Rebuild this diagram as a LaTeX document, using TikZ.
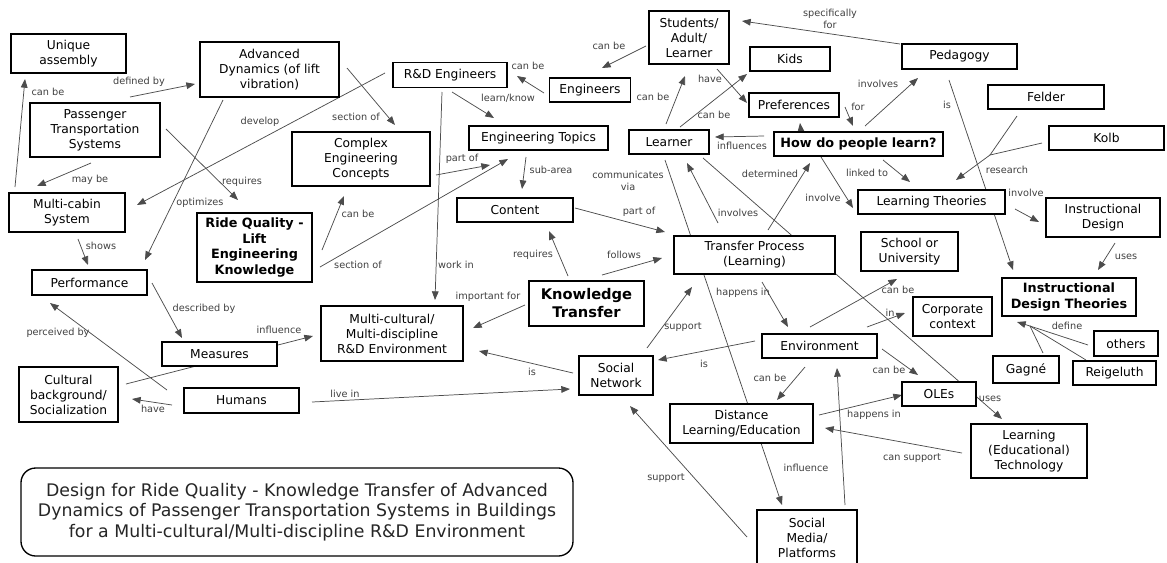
\documentclass[tikz,border=0pt]{standalone}
\usepackage{fontspec}
\setmainfont{DejaVu Sans}
\usetikzlibrary{arrows.meta,calc,backgrounds}

% a connector between two concepts, end points given as offsets from the node centres
\newcommand{\cmaplink}[4]{\draw[arr] ($(#1)+(#2)$) -- ($(#3)+(#4)$);}
\newcommand{\cmapline}[4]{\draw[link] ($(#1)+(#2)$) -- ($(#3)+(#4)$);}

\begin{document}
\begin{tikzpicture}[x=0.75pt,y=-0.75pt,
  concept/.style={draw=black, line width=0.9pt, fill=white, align=center,
    font=\fontsize{9.2}{11.3}\selectfont, inner sep=1pt},
  conceptb/.style={concept, font=\fontsize{9.6}{11.6}\selectfont\bfseries},
  conceptkt/.style={concept, font=\fontsize{11}{13.5}\selectfont\bfseries},
  sz/.style 2 args={minimum width=#1*0.75pt, minimum height=#2*0.75pt},
  lab/.style={font=\fontsize{7.3}{9}\selectfont, text=black!75, inner sep=0pt, align=center},
  link/.style={draw=black!70, line width=0.55pt},
  arr/.style={link, -{Triangle[length=6.5pt,width=5pt]}},
  titlebox/.style={draw=black, line width=1pt, fill=white, rounded corners=11pt,
    align=center, font=\fontsize{13}{15.4}\selectfont, text=black!85}
]
\useasboundingbox (0,0) rectangle (1167,562);

% ---------- concepts ----------
\node[concept, sz={115}{39}] (ua) at (68.5,53.5) {Unique\\assembly};
\node[concept, sz={139}{55}] (ad) at (269.5,69.5) {Advanced\\Dynamics (of lift\\vibration)};
\node[concept, sz={130}{54}] (pts) at (95,130) {Passenger\\Transportation\\Systems};
\node[concept, sz={116}{39}] (mc) at (67,212.5) {Multi-cabin\\System};
\node[concept, sz={114}{25}] (rde) at (450,75) {R\&D Engineers};
\node[concept, sz={138}{54}] (cec) at (361,159) {Complex\\Engineering\\Concepts};
\node[concept, sz={139}{24}] (et) at (538.5,138) {Engineering Topics};
\node[conceptb, sz={115}{69}] (rq) at (254.5,247.5) {Ride Quality -\\Lift\\Engineering\\Knowledge};
\node[concept, sz={115}{25}] (perf) at (89.5,282.5) {Performance};
\node[concept, sz={116}{24}] (cont) at (515,210) {Content};
\node[conceptkt, sz={115}{45}] (kt) at (586.5,303.5) {Knowledge\\Transfer};
\node[concept, sz={142}{55}] (mce) at (392,333.5) {Multi-cultural/\\Multi-discipline\\R\&D Environment};
\node[concept, sz={115}{24}] (meas) at (219.5,354) {Measures};
\node[concept, sz={99}{55}] (cult) at (68.5,394.5) {Cultural\\background/\\Socialization};
\node[concept, sz={115}{25}] (hum) at (241.5,400.5) {Humans};
\node[concept, sz={80}{53}] (stu) at (689,37.5) {Students/\\Adult/\\Learner};
\node[concept, sz={81}{24}] (eng) at (590,90) {Engineers};
\node[concept, sz={80}{24}] (kids) at (790,59) {Kids};
\node[concept, sz={90}{24}] (pref) at (794,105) {Preferences};
\node[concept, sz={80}{24}] (lrn) at (669,142) {Learner};
\node[conceptb, sz={169}{24}] (hdpl) at (858.5,144) {How do people learn?};
\node[concept, sz={115}{25}] (ped) at (959.5,56.5) {Pedagogy};
\node[concept, sz={116}{24}] (fel) at (1046,97) {Felder};
\node[concept, sz={115}{24}] (kolb) at (1106.5,138) {Kolb};
\node[concept, sz={147}{24}] (lt) at (931.5,202) {Learning Theories};
\node[concept, sz={114}{39}] (id) at (1103,217.5) {Instructional\\Design};
\node[concept, sz={161}{38}] (tp) at (754.5,255) {Transfer Process\\(Learning)};
\node[concept, sz={97}{39}] (sch) at (909.5,251.5) {School or\\University};
\node[conceptb, sz={134}{38}] (idt) at (1069,297) {Instructional\\Design Theories};
\node[concept, sz={79}{39}] (cc) at (952.5,316.5) {Corporate\\context};
\node[concept, sz={115}{24}] (env) at (819.5,346) {Environment};
\node[concept, sz={74}{39}] (sn) at (616,375.5) {Social\\Network};
\node[concept, sz={143}{39}] (dl) at (741.5,423.5) {Distance\\Learning/Education};
\node[concept, sz={74}{24}] (oles) at (939,394) {OLEs};
\node[concept, sz={66}{27}] (gag) at (1026,369.5) {Gagné};
\node[concept, sz={83}{24}] (rei) at (1114.5,373) {Reigeluth};
\node[concept, sz={64}{25}] (oth) at (1126,343.5) {others};
\node[concept, sz={116}{54}] (ltech) at (1029,451) {Learning\\(Educational)\\Technology};
\node[concept, sz={100}{55}] (sm) at (807,537.5) {Social\\Media/\\Platforms};

\node[titlebox, sz={552}{88}] (title) at (297,512)
  {Design for Ride Quality - Knowledge Transfer of Advanced\\
   Dynamics of Passenger Transportation Systems in Buildings\\
   for a Multi-cultural/Multi-discipline R\&D Environment};

% junctions where several links merge
\coordinate (rj) at (990,155);
\coordinate (dj) at (1030,326);

% ---------- linking phrases ----------
\node[lab] (l01) at (48,92) {can be};
\node[lab] (l02) at (139,82) {defined by};
\node[lab] (l03) at (90,180) {may be};
\node[lab] (l04) at (242,182) {requires};
\node[lab] (l05) at (260,122) {develop};
\node[lab] (l06) at (200,203) {optimizes};
\node[lab] (l07) at (356,117) {section of};
\node[lab] (l08) at (528,66) {can be};
\node[lab] (l09) at (508,98) {learn/know};
\node[lab] (l10) at (462,159) {part of};
\node[lab] (l11) at (551,170) {sub-area};
\node[lab] (l12) at (456,265) {work in};
\node[lab] (l13) at (358,265) {section of};
\node[lab] (l14) at (358,214) {can be};
\node[lab] (l15) at (609,46) {can be};
\node[lab] (l16) at (830,19) {specifically\\for};
\node[lab] (l17) at (653,97) {can be};
\node[lab] (l18) at (714,115) {can be};
\node[lab] (l19) at (710,79) {have};
\node[lab] (l20) at (858,107) {for};
\node[lab] (l21) at (878,84) {involves};
\node[lab] (l22) at (742,146) {influences};
\node[lab] (l23) at (770,174) {determined};
\node[lab] (l25) at (947,105) {is};
\node[lab] (l26) at (1007,170) {research};
\node[lab] (l27) at (867,173) {linked to};
\node[lab] (l28) at (1026,193) {involve};
\node[lab] (l29) at (1126,257) {uses};
\node[lab] (l30) at (628,181) {communicates\\via};
\node[lab] (l31) at (738,213) {involves};
\node[lab] (l32) at (990,399) {uses};
\node[lab] (l33) at (823,198) {involve};
\node[lab] (l34) at (639,212) {part of};
\node[lab] (l35) at (624,255) {follows};
\node[lab] (l36) at (533,255) {requires};
\node[lab] (l37) at (488,297) {important for};
\node[lab] (l38) at (532,372) {is};
\node[lab] (l39) at (345,394) {live in};
\node[lab] (l40) at (279,330) {influence};
\node[lab] (l41) at (743,293) {happens in};
\node[lab] (l42) at (683,327) {support};
\node[lab] (l43) at (704,364) {is};
\node[lab] (l44) at (898,290) {can be};
\node[lab] (l45) at (890,313) {in};
\node[lab] (l46) at (770,378) {can be};
\node[lab] (l47) at (889,370) {can be};
\node[lab] (l48) at (874,415) {happens in};
\node[lab] (l49) at (912,458) {can support};
\node[lab] (l50) at (666,478) {support};
\node[lab] (l52) at (806,468) {influence};
\node[lab] (l53) at (204,309) {described by};
\node[lab] (l54) at (101,246) {shows};
\node[lab] (l55) at (58,333) {perceived by};
\node[lab] (l56) at (153,409) {have};
\node[lab] (l57) at (1067,326) {define};

% ---------- connectors (behind the concept boxes) ----------
\begin{pgfonlayer}{background}
\fill[white] (0,0) rectangle (1167,562);
\cmaplink{mc}{-52,-25.5}{ua}{-43.5,25.5}
\cmaplink{pts}{35,-33}{ad}{-74.5,14.5}
\cmaplink{pts}{-4,33}{mc}{-30,-26.5}
\cmaplink{pts}{71,-1}{rq}{-16.5,-47.5}
\cmaplink{rde}{-65,-2}{mc}{70,-7.5}
\cmaplink{ad}{-46.5,30.5}{perf}{55.5,-22.5}
\cmaplink{ad}{77.5,-1.5}{cec}{34,-34}
\cmaplink{eng}{-46,3}{rde}{67,1}
\cmaplink{rde}{2,17}{et}{-44.5,-20}
\cmaplink{cec}{75,16}{et}{-48.5,27}
\cmaplink{et}{-12.5,19}{cont}{7,-21}
\cmaplink{rde}{-8,17}{mce}{43,-33.5}
\cmaplink{rq}{65.5,19.5}{et}{-30.5,21}
\cmaplink{rq}{67.5,2.5}{cec}{-17,37}
\cmaplink{stu}{-43,8.5}{eng}{12,-22}
\cmaplink{ped}{-59.5,-12.5}{stu}{53,-16.5}
\cmaplink{lrn}{-3,-18}{stu}{-4,38.5}
\cmaplink{lrn}{11,-15}{kids}{-43,15}
\cmaplink{stu}{28,31.5}{pref}{-47,-2}
\cmaplink{pref}{51,2}{hdpl}{-5.5,-18}
\cmaplink{hdpl}{6.5,-18}{ped}{-41.5,21.5}
\cmaplink{hdpl}{-94.5,-8}{lrn}{46,-5}
\cmaplink{tp}{13.5,-25}{hdpl}{-48.5,19}
\cmaplink{hdpl}{-57.5,-12}{pref}{6,18}
\cmaplink{ped}{-10.5,23.5}{idt}{-56,-27}
\cmapline{fel}{-29,19}{rj}{0,0}
\cmapline{kolb}{-64.5,5}{rj}{0,0}
\cmaplink{rj}{0,0}{lt}{24.5,-22}
\cmaplink{hdpl}{24.5,16}{lt}{-21.5,-20}
\cmaplink{lt}{83.5,7}{id}{-64,4.5}
\cmaplink{id}{12,25.5}{idt}{29,-27}
\cmaplink{lrn}{-4,18}{sm}{-25,-32.5}
\cmaplink{tp}{-36.5,-32}{lrn}{18,21}
\cmaplink{lrn}{34,16}{ltech}{-27,-32}
\cmaplink{hdpl}{-37.5,13}{lt}{-78.5,6}
\cmaplink{cont}{60,-2}{tp}{-89.5,-23}
\cmaplink{kt}{15.5,-28.5}{tp}{-92.5,3}
\cmaplink{kt}{-18.5,-27.5}{cont}{34,21}
\cmaplink{kt}{-61.5,1.5}{mce}{81,-5.5}
\cmaplink{sn}{-43,-2.5}{mce}{87,17.5}
\cmaplink{hum}{70.5,1.5}{sn}{-46,13.5}
\cmaplink{cult}{57.5,-10.5}{mce}{-79,2.5}
\cmaplink{tp}{7.5,27}{env}{-31.5,-19}
\cmaplink{sn}{31,-27.5}{tp}{-62.5,32}
\cmaplink{env}{-64.5,-5}{sn}{42,-15.5}
\cmaplink{env}{-9.5,-19}{sch}{-12.5,27.5}
\cmaplink{env}{47.5,-19}{cc}{-47.5,-3.5}
\cmaplink{env}{-14.5,21}{dl}{35.5,-23.5}
\cmaplink{env}{62.5,3}{oles}{-21,-19}
\cmaplink{dl}{77.5,-8.5}{oles}{-37,1}
\cmaplink{ltech}{-67,2}{dl}{83.5,4.5}
\cmaplink{sm}{-60,-0.5}{sn}{14,30.5}
\cmaplink{sm}{38,-32.5}{env}{17.5,22}
\cmaplink{perf}{62.5,0.5}{meas}{-37.5,-16}
\cmaplink{mc}{11,26.5}{perf}{-1.5,-17.5}
\cmaplink{hum}{-74.5,-10.5}{perf}{-39.5,20.5}
\cmaplink{hum}{-69.5,4.5}{cult}{63.5,4.5}
\cmapline{oth}{-38,1.5}{dj}{0,0}
\cmapline{rei}{-28.5,-13}{dj}{0,0}
\cmapline{gag}{17,-16.5}{dj}{0,0}
\cmaplink{dj}{0,0}{idt}{-52,25}
\end{pgfonlayer}
\end{tikzpicture}
\end{document}
